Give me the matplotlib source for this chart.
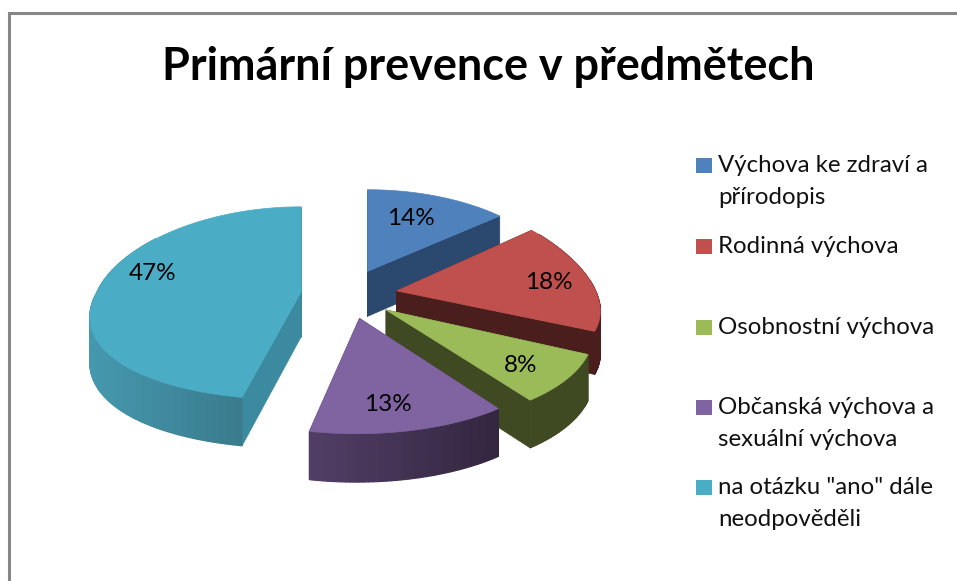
import numpy as np
import matplotlib
matplotlib.use("Agg")
import matplotlib.pyplot as plt
from matplotlib.patches import Polygon, Rectangle

title = "Primární prevence v předmětech"
categories = ["Výchova ke zdraví a\npřírodopis", "Rodinná výchova", "Osobnostní výchova",
              "Občanská výchova a\nsexuální výchova", 'na otázku "ano" dále\nneodpověděli']
values = [14, 18, 8, 13, 47]

top_colors = ["#4f81bd", "#c0504d", "#9bbb59", "#8064a2", "#4bacc6"]
wall_colors = ["#2b486e", "#4a1e1c", "#404a22", "#4b3a60", "#3b8a9f"]
rim_left = ["#2b486e", "#4f1f1d", "#404a22", "#513e66", "#4598ae"]
rim_right = ["#2b486e", "#4a1e1c", "#404a22", "#33263f", "#366f80"]
draw_order = [0, 1, 2, 3, 4]
legend_y = [165, 246, 327, 407, 487]
label_offset = [(43, -53), (152, -8), (135, 56), (28, 86), (-149, -18)]

# small per-slice adjustments of the projected shape (layout only)
shift_x = [-2, 0, 0, 0, 0]
scale_x = [0.98, 1.0, 1.02, 1.0, 1.025]
skew_x = [0, 0, 0, 3, 11]
persp_y = [0.20, 0.0, 0.15, 0.15, 0.12]
radius_y = [98, 95, 98, 98, 95]
depth_scale = [1.0, 0.93, 1.0, 1.0, 1.0]

W, H = 957, 581
CX, CY = 349, 294       # pie centre on screen
EX, EY = 48, 25         # explosion reach
RX = 199                # horizontal radius before perspective
PX = 0.213              # perspective strength
DEPTH = 45

fig = plt.figure(figsize=(W / 100, H / 100), dpi=100)
ax = fig.add_axes([0, 0, 1, 1])
ax.set_xlim(0, W)
ax.set_ylim(H, 0)
ax.axis("off")


def project(i, x, y, ax0, ay0):
    sx = ax0 + scale_x[i] * RX * x / (1 + PX * y) + skew_x[i] * np.minimum(y, 0)
    sy = ay0 - radius_y[i] * y / (1 + persp_y[i] * y)
    return sx, sy


def depth(i, y):
    return depth_scale[i] * DEPTH / (1 + 0.07 * y)


def mix(c1, c2, t):
    a = np.array(matplotlib.colors.to_rgb(c1))
    b = np.array(matplotlib.colors.to_rgb(c2))
    return tuple(a + (b - a) * t)


total = sum(values)
edges = np.cumsum([0] + values) / total * 360.0


def draw_slice(i):
    a0, a1 = np.radians(edges[i]), np.radians(edges[i + 1])
    mid = (a0 + a1) / 2
    ax0, ay0 = CX + EX * np.sin(mid) + shift_x[i], CY - EY * np.cos(mid)
    t = np.linspace(a0, a1, max(8, int(edges[i + 1] - edges[i])))
    ux, uy = np.sin(t), np.cos(t)
    sx, sy = project(i, ux, uy, ax0, ay0)
    dep = depth(i, uy)
    d0 = depth(i, 0.0)

    # radial walls, farther first
    walls = []
    for k in (0, -1):
        quad = [(ax0, ay0), (sx[k], sy[k]), (sx[k], sy[k] + dep[k]), (ax0, ay0 + d0)]
        walls.append((sy[k], quad))
    for _, quad in sorted(walls, key=lambda w: w[0]):
        ax.add_patch(Polygon(quad, closed=True, fc=wall_colors[i], ec=wall_colors[i], lw=0.5, zorder=2 + i))

    # outer rim with a left-to-right shade
    xmin, xmax = sx.min(), sx.max()
    for j in range(len(t) - 1):
        tt = ((sx[j] + sx[j + 1]) / 2 - xmin) / max(xmax - xmin, 1)
        col = mix(rim_left[i], rim_right[i], tt)
        quad = [(sx[j], sy[j]), (sx[j + 1], sy[j + 1]),
                (sx[j + 1], sy[j + 1] + dep[j + 1]), (sx[j], sy[j] + dep[j])]
        if (uy[j] + uy[j + 1]) < 1.2:
            ax.add_patch(Polygon(quad, closed=True, fc=col, ec=col, lw=0.9, zorder=2 + i))

    # top face
    pts = [(ax0, ay0)] + list(zip(sx, sy))
    ax.add_patch(Polygon(pts, closed=True, fc=top_colors[i], ec=top_colors[i], lw=0.5, zorder=2 + i))
    ox, oy = label_offset[i]
    ax.text(ax0 + ox, ay0 + oy, f"{values[i]}%", ha="center", va="center",
            fontsize=17.5, family="Lato", color="black", zorder=20)


for i in draw_order:
    draw_slice(i)

# chart frame
ax.plot([9, 9, W], [H, 13, 13], color="#878787", lw=2.2, solid_joinstyle="miter", zorder=1)

ax.text(488, 67, title, ha="center", va="center", fontsize=32.4, fontweight="bold",
        family="Lato", color="black")

for name, col, y in zip(categories, top_colors, legend_y):
    ax.add_patch(Rectangle((696, y - 7.5), 16, 15, fc=col, ec="none"))
    ax.text(718, y - 10, name, ha="left", va="top", fontsize=17.3, family="Lato",
            color="#111111", linespacing=1.67)

fig.savefig("out.png", dpi=100)
